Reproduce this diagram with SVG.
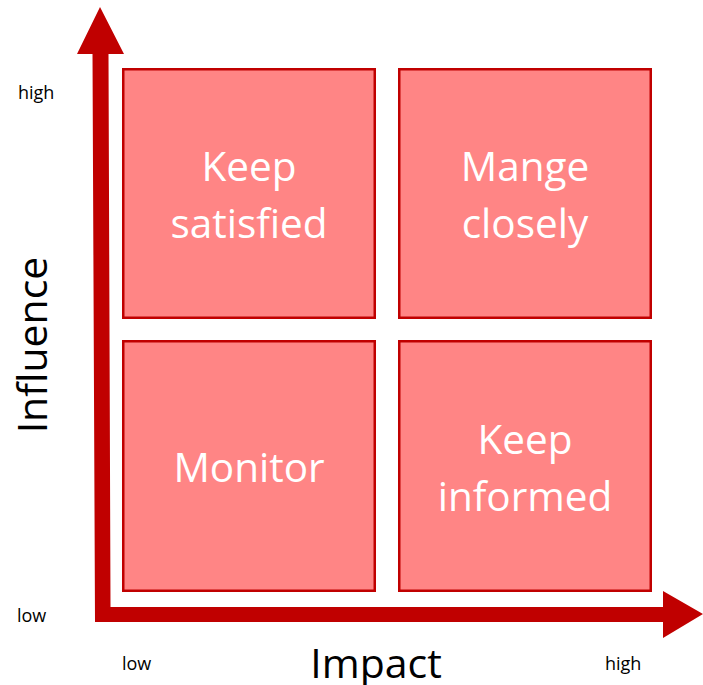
<svg xmlns="http://www.w3.org/2000/svg" width="703" height="685" viewBox="0 0 703 685">
  <style>
    .box { fill: #FF8585; stroke: #C00000; stroke-width: 2.5; }
    .big { font-family: "Open Sans", "Noto Sans", sans-serif; font-size: 40.5px; fill: #FFFFFF; text-anchor: middle; }
    .axis { font-family: "Open Sans", "Noto Sans", sans-serif; font-size: 41px; fill: #000000; }
    .tick { font-family: "Open Sans", "Noto Sans", sans-serif; font-size: 18px; fill: #000000; }
    .arrow { fill: #C00000; }
  </style>
  <rect width="703" height="685" fill="#FFFFFF"/>

  <g id="connectors">
    <polygon class="arrow" points="100,7 124,54 108.5,54 110.5,607 663,607 663,591 703,614 663,638 663,622 95,622 92.5,54 77,54"/>
  </g>

  <g id="keep-satisfied">
    <rect class="box" x="123.25" y="69.25" width="251.5" height="248.5"/>
    <text class="big" x="249" y="181">Keep</text>
    <text class="big" x="249" y="238">satisfied</text>
  </g>
  <g id="manage-closely">
    <rect class="box" x="399.25" y="69.25" width="251.5" height="248.5"/>
    <text class="big" x="525" y="181">Mange</text>
    <text class="big" x="525" y="238">closely</text>
  </g>
  <g id="monitor">
    <rect class="box" x="123.25" y="341.25" width="251.5" height="249.5"/>
    <text class="big" x="249" y="482">Monitor</text>
  </g>
  <g id="keep-informed">
    <rect class="box" x="399.25" y="341.25" width="251.5" height="249.5"/>
    <text class="big" x="525" y="454">Keep</text>
    <text class="big" x="525" y="511">informed</text>
  </g>

  <g id="labels">
    <text class="axis" text-anchor="middle" transform="translate(47,345) rotate(-90)">Influence</text>
    <text class="axis" text-anchor="middle" x="376" y="678">Impact</text>
    <text class="tick" x="18" y="99">high</text>
    <text class="tick" x="17" y="622">low</text>
    <text class="tick" x="122" y="670">low</text>
    <text class="tick" x="605" y="670">high</text>
  </g>
</svg>
